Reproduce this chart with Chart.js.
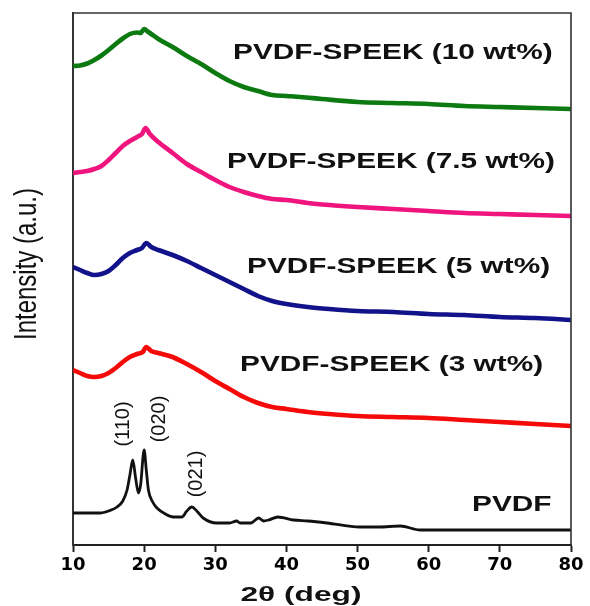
<!DOCTYPE html>
<html>
<head>
<meta charset="utf-8">
<script src="https://cdn.jsdelivr.net/npm/chart.js@4/dist/chart.umd.min.js"></script>
<style>
html,body{margin:0;padding:0;background:#fff;}
canvas{display:block;}
</style>
</head>
<body>
<canvas id="c" width="590" height="606"></canvas>
<script>
// ---- Data (2θ in degrees, intensity in arbitrary units, offset/stacked as in the figure) ----
const xTicks = [10, 20, 30, 40, 50, 60, 70, 80];

const angle10 = [10,11,12,13,14,15,16,17,18,19,19.5,20,20.5,21,22,24,26,28,30,32,34,36,38,40,42,45,50,55,60,65,70,75,80];
const int10   = [479,479.5,481.5,485,489.5,495,501,506.5,511,512.5,512,516,513.5,511,506,498,489,481,472,464,458,454,450,449,448,446,443,442,441,439,438,437,436];

const angle75 = [10,11,12,13,14,15,16,17,18,19,19.7,20.2,20.8,22,24,26,28,30,32,34,36,38,40,43,46,50,55,60,65,70,75,80];
const int75   = [372,373,374,376,379,385,392,399,404,408,411,417,411,403,392,381,373,365,358,353,349,346,345,342,340,338,336,334,332,331,330,329];

const angle5 = [10,11,12,13,14,15,16,17,18,19,19.7,20.3,21,22,24,26,28,30,32,34,36,38,40,43,46,50,55,60,65,70,75,80];
const int5   = [278,275,272,270,271,274,280,287,292,295,297,302,298,295,290,284,277,270,263,256,249,244,241,238,236,234,233,231,230,228,227,225];

const angle3 = [10,11,12,13,14,15,16,17,18,19,19.8,20.3,21,22,24,26,28,30,32,34,36,38,40,43,46,50,55,60,65,70,75,80];
const int3   = [175,172,169,168,169,172,177,183,188,191,193,198,194,192,188,181,173,164,156,148,142,138,136,133,131,129,128,127,125,123,121,119];

const anglePVDF = [10,12,13.8,15,16.2,17,17.6,18,18.4,18.8,19.2,19.5,20,20.3,20.6,21.2,21.8,23,24.1,25.3,26,26.7,27.4,28.3,30.2,32,33,33.5,35,36.1,36.8,37.5,38.8,41,43,45.7,50.3,53,56,58.8,65,70,80];
const intPVDF   = [32,32,32,34,38,44,55,70,85,67,52,60,95,75,55,43,37,31,28,28,34,38,34,27,22,22,24,22,22,27,24,25,28,25,24,22,18,18,19,15,15,15,15];

const seriesNames = ['PVDF-SPEEK (10 wt%)','PVDF-SPEEK (7.5 wt%)','PVDF-SPEEK (5 wt%)','PVDF-SPEEK (3 wt%)','PVDF'];
const peakLabels = ['(110)','(020)','(021)'];
const xTitle = '2θ (deg)';
const yTitle = 'Intensity (a.u.)';

// ---- Build datasets ----
const toXY = (xs, ys) => xs.map((x, i) => ({x: x, y: ys[i]}));
const colors = ['#0c7a10', '#f0147e', '#12128a', '#f50a0a', '#111111'];
const widths = [4.6, 4.6, 4.6, 4.6, 2.8];
const series = [[angle10,int10],[angle75,int75],[angle5,int5],[angle3,int3],[anglePVDF,intPVDF]];

const datasets = series.map((s, i) => ({
  label: seriesNames[i],
  data: toXY(s[0], s[1]),
  borderColor: colors[i],
  backgroundColor: colors[i],
  borderWidth: widths[i],
  pointRadius: 0,
  cubicInterpolationMode: 'monotone',
  fill: false
}));

// ---- Text annotations (layout only) ----
const textPlugin = {
  id: 'texts',
  afterDraw(chart) {
    const ctx = chart.ctx;
    const ca = chart.chartArea;
    ctx.save();
    // frame
    ctx.strokeStyle = '#333';
    ctx.lineWidth = 1.6;
    ctx.beginPath();
    ctx.moveTo(ca.left, ca.top);
    ctx.lineTo(ca.right, ca.top);
    ctx.lineTo(ca.right, ca.bottom);
    ctx.stroke();

    // series labels, horizontally stretched bold
    const lab = [
      [seriesNames[0], 233, 53],
      [seriesNames[1], 227, 162],
      [seriesNames[2], 247, 267],
      [seriesNames[3], 240, 365],
      [seriesNames[4], 472, 505]
    ];
    ctx.fillStyle = '#111';
    ctx.font = 'bold 22px "Liberation Sans", Arial, sans-serif';
    ctx.textBaseline = 'middle';
    ctx.textAlign = 'left';
    lab.forEach(l => {
      ctx.save();
      ctx.translate(l[1], l[2]);
      ctx.scale(1.355, 1);
      ctx.fillText(l[0], 0, 0);
      ctx.restore();
    });

    // peak labels rotated
    const pk = [[peakLabels[0], 123, 424], [peakLabels[1], 159, 419], [peakLabels[2], 196, 474]];
    ctx.font = '19px "Liberation Sans", Arial, sans-serif';
    ctx.textAlign = 'center';
    pk.forEach(p => {
      ctx.save();
      ctx.translate(p[1], p[2]);
      ctx.rotate(-Math.PI / 2);
      ctx.scale(1.05, 1.1);
      ctx.fillText(p[0], 0, 0);
      ctx.restore();
    });

    // y title
    ctx.save();
    ctx.translate(27, 264);
    ctx.rotate(-Math.PI / 2);
    ctx.scale(1, 1.3);
    ctx.font = '24px "Liberation Sans", Arial, sans-serif';
    ctx.fillText(yTitle, 0, 0);
    ctx.restore();

    // x title
    ctx.save();
    ctx.font = 'bold 21px "Liberation Sans", Arial, sans-serif';
    const w = ctx.measureText(xTitle).width;
    ctx.translate(301, 595);
    ctx.scale(121 / w, 1);
    ctx.fillText(xTitle, 0, 0);
    ctx.restore();

    ctx.restore();
  }
};

new Chart(document.getElementById('c'), {
  type: 'line',
  data: { datasets: datasets },
  options: {
    responsive: false,
    animation: false,
    devicePixelRatio: 1,
    layout: { padding: { left: 0, right: 19, top: 13, bottom: 0 } },
    plugins: { legend: { display: false }, tooltip: { enabled: false } },
    scales: {
      x: {
        type: 'linear',
        min: 10, max: 80,
        afterBuildTicks: (s) => { s.ticks = xTicks.map(v => ({value: v})); },
        ticks: {
          color: '#000',
          padding: 3,
          maxRotation: 0,
          font: { family: '"DejaVu Sans", sans-serif', weight: 'bold', size: 18 }
        },
        grid: { drawOnChartArea: false, drawTicks: true, tickLength: 7, tickWidth: 2, color: '#222' },
        border: { display: true, color: '#222', width: 2 },
        afterFit: (s) => { s.height = 61; }
      },
      y: {
        min: 0, max: 532,
        ticks: { display: false },
        grid: { drawOnChartArea: false, drawTicks: false, tickLength: 0 },
        border: { display: true, color: '#333', width: 2 },
        afterFit: (s) => { s.width = 73; }
      }
    }
  },
  plugins: [textPlugin]
});
</script>
</body>
</html>
